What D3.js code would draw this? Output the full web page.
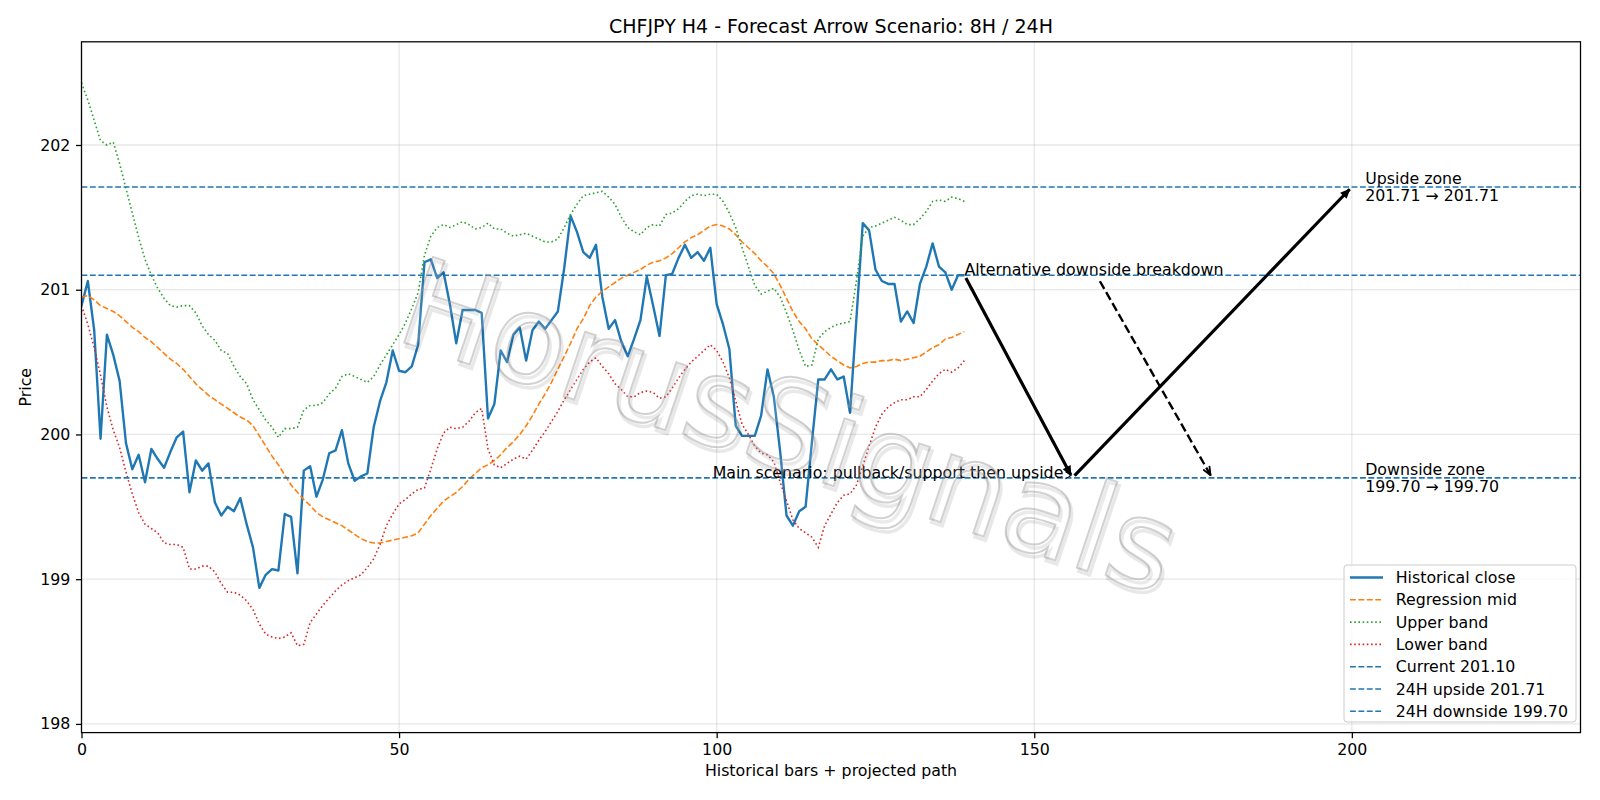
<!DOCTYPE html>
<html lang="en">
<head>
<meta charset="UTF-8">
<title>CHFJPY H4 - Forecast Arrow Scenario</title>
<script src="https://d3js.org/d3.v7.min.js"></script>
<style>
  body { margin: 0; background: #fff; }
  svg text { font-family: "DejaVu Sans", sans-serif; }
</style>
</head>
<body>
<svg id="chart" width="1600" height="800"></svg>
<script>
// ---- data ----
const closePrices = [
  200.89, 201.06, 200.72, 199.97, 200.69, 200.55, 200.37, 199.94, 199.76, 199.86,
  199.67, 199.90, 199.83, 199.77, 199.88, 199.98, 200.02, 199.60, 199.82, 199.75,
  199.80, 199.53, 199.44, 199.50, 199.47, 199.56, 199.38, 199.22, 198.94, 199.03,
  199.07, 199.06, 199.45, 199.43, 199.04, 199.75, 199.78, 199.57, 199.69, 199.87,
  199.89, 200.03, 199.80, 199.68, 199.71, 199.73, 200.05, 200.23, 200.36, 200.58,
  200.44, 200.43, 200.47, 200.62, 201.19, 201.21, 201.08, 201.12, 200.90, 200.63,
  200.86, 200.86, 200.86, 200.84, 200.11, 200.21, 200.58, 200.50, 200.69, 200.74,
  200.51, 200.72, 200.78, 200.73, 200.79, 200.85, 201.15, 201.51, 201.40, 201.26,
  201.22, 201.31, 200.95, 200.73, 200.79, 200.64, 200.54, 200.66, 200.79, 201.09,
  200.89, 200.68, 201.10, 201.11, 201.22, 201.31, 201.22, 201.26, 201.20, 201.29,
  200.90, 200.76, 200.59, 200.06, 199.99, 199.99, 199.99, 200.13, 200.45, 200.26,
  199.88, 199.44, 199.37, 199.47, 199.50, 199.95, 200.38, 200.38, 200.45, 200.38,
  200.40, 200.15, 200.80, 201.46, 201.41, 201.14, 201.06, 201.04, 201.04, 200.78,
  200.85, 200.77, 201.04, 201.16, 201.32, 201.16, 201.12, 201.00, 201.10, 201.10
];

const regressionMid = [
  200.95, 200.96, 200.93, 200.89, 200.87, 200.85, 200.82, 200.78, 200.74, 200.71,
  200.67, 200.64, 200.60, 200.56, 200.52, 200.49, 200.45, 200.40, 200.35, 200.31,
  200.27, 200.24, 200.21, 200.18, 200.15, 200.12, 200.10, 200.06, 199.99, 199.92,
  199.85, 199.79, 199.72, 199.65, 199.60, 199.55, 199.51, 199.46, 199.43, 199.41,
  199.39, 199.37, 199.34, 199.31, 199.28, 199.26, 199.25, 199.25, 199.26, 199.27,
  199.28, 199.29, 199.30, 199.32, 199.38, 199.44, 199.49, 199.54, 199.57, 199.60,
  199.64, 199.69, 199.73, 199.77, 199.79, 199.82, 199.86, 199.91, 199.95, 200.00,
  200.06, 200.13, 200.21, 200.28, 200.36, 200.45, 200.54, 200.63, 200.73, 200.80,
  200.89, 200.95, 200.99, 201.02, 201.05, 201.08, 201.10, 201.12, 201.14, 201.17,
  201.19, 201.20, 201.22, 201.25, 201.29, 201.33, 201.36, 201.38, 201.41, 201.44,
  201.45, 201.44, 201.42, 201.38, 201.33, 201.29, 201.25, 201.20, 201.16, 201.11,
  201.03, 200.94, 200.85, 200.78, 200.73, 200.66, 200.62, 200.58, 200.54, 200.51,
  200.48, 200.46, 200.47, 200.49, 200.50, 200.50, 200.51, 200.51, 200.52, 200.51,
  200.52, 200.53, 200.54, 200.57, 200.60, 200.62, 200.66, 200.67, 200.69, 200.71
];

const upperBand = [
  202.43, 202.31, 202.17, 202.03, 202.00, 202.02, 201.87, 201.70, 201.53, 201.36,
  201.21, 201.10, 201.01, 200.94, 200.89, 200.88, 200.89, 200.89, 200.84, 200.75,
  200.69, 200.65, 200.58, 200.56, 200.47, 200.40, 200.35, 200.24, 200.17, 200.10,
  200.05, 199.98, 200.04, 200.04, 200.05, 200.17, 200.20, 200.20, 200.22, 200.28,
  200.32, 200.40, 200.42, 200.40, 200.38, 200.36, 200.40, 200.48, 200.55, 200.62,
  200.69, 200.77, 200.87, 200.98, 201.24, 201.37, 201.43, 201.45, 201.43, 201.45,
  201.47, 201.45, 201.42, 201.43, 201.46, 201.42, 201.42, 201.39, 201.37, 201.38,
  201.39, 201.37, 201.35, 201.33, 201.33, 201.35, 201.43, 201.52, 201.59, 201.65,
  201.66, 201.67, 201.68, 201.64, 201.59, 201.50, 201.43, 201.40, 201.38, 201.43,
  201.45, 201.44, 201.52, 201.53, 201.56, 201.61, 201.65, 201.66, 201.65, 201.66,
  201.66, 201.61, 201.53, 201.43, 201.29, 201.16, 201.03, 200.97, 200.99, 201.01,
  200.95, 200.84, 200.72, 200.58, 200.47, 200.48, 200.66, 200.71, 200.74, 200.76,
  200.77, 200.78, 201.06, 201.37, 201.43, 201.44, 201.46, 201.48, 201.50, 201.48,
  201.45, 201.45, 201.49, 201.54, 201.61, 201.62, 201.61, 201.64, 201.63, 201.61
];

const lowerBand = [
  200.89, 200.76, 200.60, 200.41, 200.19, 200.03, 199.91, 199.74, 199.59, 199.46,
  199.38, 199.35, 199.32, 199.25, 199.24, 199.24, 199.22, 199.07, 199.07, 199.09,
  199.09, 199.05, 198.97, 198.91, 198.91, 198.89, 198.85, 198.79, 198.69, 198.62,
  198.60, 198.59, 198.60, 198.63, 198.54, 198.55, 198.70, 198.76, 198.82, 198.87,
  198.92, 198.96, 198.99, 199.01, 199.03, 199.08, 199.14, 199.24, 199.37, 199.45,
  199.52, 199.55, 199.59, 199.62, 199.63, 199.76, 199.90, 200.01, 200.05, 200.04,
  200.05, 200.09, 200.15, 200.18, 199.90, 199.79, 199.77, 199.80, 199.83, 199.85,
  199.83, 199.89, 199.96, 200.02, 200.09, 200.16, 200.24, 200.31, 200.38, 200.45,
  200.50, 200.53, 200.47, 200.42, 200.35, 200.31, 200.26, 200.26, 200.29, 200.30,
  200.29, 200.25, 200.26, 200.32, 200.39, 200.45, 200.50, 200.54, 200.58, 200.62,
  200.58, 200.50, 200.39, 200.23, 200.07, 200.00, 199.92, 199.87, 199.86, 199.81,
  199.67, 199.54, 199.41, 199.35, 199.32, 199.29, 199.22, 199.37, 199.45, 199.53,
  199.58, 199.59, 199.65, 199.78, 199.92, 200.05, 200.14, 200.19, 200.22, 200.24,
  200.24, 200.26, 200.26, 200.31, 200.37, 200.42, 200.45, 200.43, 200.46, 200.51
];

const currentPrice = 201.10;
const upsideLevel = 201.71;
const downsideLevel = 199.70;

// projected path: [bar, price]
const mainPath = [[139, 201.10], [156, 199.70], [200, 201.71]];
const altTarget = [178, 199.70];

const xTicks = [0, 50, 100, 150, 200];
const yTicks = [198, 199, 200, 201, 202];

const legendLabels = [
  "Historical close", "Regression mid", "Upper band", "Lower band",
  "Current 201.10", "24H upside 201.71", "24H downside 199.70"
];

// ---- layout ----
const W = 1600, H = 800;
const pL = 81.5, pR = 1580.5, pT = 41.8, pB = 732.6;
const pt = 1.587; // px per point

const svg = d3.select("#chart");

const x = d3.scaleLinear().domain([0, 236]).range([pL, pR]);
const y = d3.scaleLinear().domain([197.94, 202.713]).range([pB, pT]);

const blue = "#1f77b4", orange = "#ff7f0e", green = "#2ca02c", red = "#d62728";
const dashed = `${3.7 * pt},${1.6 * pt}`;
const dotted = `${1 * pt},${1.65 * pt}`;

svg.append("rect").attr("width", W).attr("height", H).attr("fill", "#fff");

const defs = svg.append("defs");
defs.append("clipPath").attr("id", "plotclip")
  .append("rect").attr("x", pL).attr("y", pT)
  .attr("width", pR - pL).attr("height", pB - pT);

defs.append("marker").attr("id", "headSolid")
  .attr("viewBox", "0 0 10 10").attr("refX", 9).attr("refY", 5)
  .attr("markerUnits", "userSpaceOnUse")
  .attr("markerWidth", 14).attr("markerHeight", 10).attr("orient", "auto")
  .append("path").attr("d", "M0,0.5 L10,5 L0,9.5 z").attr("fill", "#000");

defs.append("marker").attr("id", "headOpen")
  .attr("viewBox", "0 0 10 10").attr("refX", 9.5).attr("refY", 5)
  .attr("markerUnits", "userSpaceOnUse")
  .attr("markerWidth", 10).attr("markerHeight", 9).attr("orient", "auto")
  .append("path").attr("d", "M0,1 L9.5,5 L0,9")
  .attr("fill", "none").attr("stroke", "#000").attr("stroke-width", 2);

// grid
const grid = svg.append("g");
grid.selectAll(".gx").data(xTicks).join("line")
  .attr("x1", d => x(d)).attr("x2", d => x(d))
  .attr("y1", pT).attr("y2", pB)
  .attr("stroke", "#b0b0b0").attr("stroke-opacity", 0.3).attr("stroke-width", 1.3);
grid.selectAll(".gy").data(yTicks).join("line")
  .attr("x1", pL).attr("x2", pR)
  .attr("y1", d => y(d)).attr("y2", d => y(d))
  .attr("stroke", "#b0b0b0").attr("stroke-opacity", 0.3).attr("stroke-width", 1.3);

const plot = svg.append("g").attr("clip-path", "url(#plotclip)");

const line = d3.line().x((d, i) => x(i)).y(d => y(d));

plot.append("path").datum(closePrices).attr("d", line)
  .attr("fill", "none").attr("stroke", blue).attr("stroke-width", 1.5 * pt)
  .attr("stroke-linejoin", "round");
plot.append("path").datum(regressionMid).attr("d", line)
  .attr("fill", "none").attr("stroke", orange).attr("stroke-width", pt)
  .attr("stroke-dasharray", dashed);
plot.append("path").datum(upperBand).attr("d", line)
  .attr("fill", "none").attr("stroke", green).attr("stroke-width", pt)
  .attr("stroke-dasharray", dotted);
plot.append("path").datum(lowerBand).attr("d", line)
  .attr("fill", "none").attr("stroke", red).attr("stroke-width", pt)
  .attr("stroke-dasharray", dotted);

// horizontal levels
plot.selectAll(".lvl").data([currentPrice, upsideLevel, downsideLevel]).join("line")
  .attr("x1", pL).attr("x2", pR)
  .attr("y1", d => y(d)).attr("y2", d => y(d))
  .attr("stroke", blue).attr("stroke-width", pt)
  .attr("stroke-dasharray", dashed);

// scenario arrows
const shrink = (p, q, s) => {
  const dx = q[0] - p[0], dy = q[1] - p[1], L = Math.hypot(dx, dy);
  return [q[0] - dx / L * s, q[1] - dy / L * s];
};
for (let k = 0; k < mainPath.length - 1; k++) {
  const p = [x(mainPath[k][0]), y(mainPath[k][1])];
  const q = [x(mainPath[k + 1][0]), y(mainPath[k + 1][1])];
  const q2 = shrink(p, q, 2 * pt);
  const p2 = shrink(q, p, 2 * pt);
  svg.append("line")
    .attr("x1", p2[0]).attr("y1", p2[1]).attr("x2", q2[0]).attr("y2", q2[1])
    .attr("stroke", "#000").attr("stroke-width", 2 * pt)
    .attr("marker-end", "url(#headSolid)");
}

const fs = 15.8;
const txt = svg.append("g").attr("font-size", fs).attr("fill", "#000");

// alternative scenario
const altText = txt.append("text")
  .attr("x", x(mainPath[0][0])).attr("y", y(currentPrice))
  .text("Alternative downside breakdown");
const altBox = altText.node().getBBox();
{
  const p = [altBox.x + altBox.width / 2 + 6, altBox.y + altBox.height + 2];
  const q = shrink(p, [x(altTarget[0]), y(altTarget[1])], 2 * pt);
  svg.append("line")
    .attr("x1", p[0]).attr("y1", p[1]).attr("x2", q[0]).attr("y2", q[1])
    .attr("stroke", "#000").attr("stroke-width", 1.5 * pt)
    .attr("stroke-dasharray", `${3.7 * 1.5 * pt},${1.6 * 1.5 * pt}`)
    .attr("marker-end", "url(#headOpen)");
}

// main scenario label with small arrow stub
const mainX = x(mainPath[1][0]);
const mainY = y(downsideLevel);
txt.append("text")
  .attr("x", mainX - 9).attr("y", mainY)
  .attr("text-anchor", "end")
  .text("Main scenario: pullback/support then upside");
svg.append("path")
  .attr("d", `M${mainX - 7},${mainY - 6} L${mainX - 1},${mainY - 2.5} L${mainX - 7},${mainY + 1}`)
  .attr("fill", "none").attr("stroke", "#000").attr("stroke-width", 1);

// zone labels
[["Upside zone", upsideLevel], ["Downside zone", downsideLevel]].forEach(([lab, v]) => {
  const tx = x(202.1);
  const t = txt.append("text").attr("x", tx).attr("y", y(v));
  t.append("tspan").attr("x", tx).attr("dy", -3).text(lab);
  t.append("tspan").attr("x", tx).attr("dy", 16.8)
    .text(`${v.toFixed(2)} \u2192 ${v.toFixed(2)}`);
});

// axes frame
svg.append("rect").attr("x", pL).attr("y", pT)
  .attr("width", pR - pL).attr("height", pB - pT)
  .attr("fill", "none").attr("stroke", "#000").attr("stroke-width", 0.8 * pt);

const xAxis = svg.append("g").attr("transform", `translate(0,${pB})`)
  .call(d3.axisBottom(x).tickValues(xTicks).tickSize(3.5 * pt).tickPadding(3.5 * pt).tickFormat(d3.format("d")));
const yAxis = svg.append("g").attr("transform", `translate(${pL},0)`)
  .call(d3.axisLeft(y).tickValues(yTicks).tickSize(3.5 * pt).tickPadding(3.5 * pt).tickFormat(d3.format("d")));
[xAxis, yAxis].forEach(a => {
  a.select(".domain").remove();
  a.selectAll("text").attr("font-size", fs).attr("font-family", "DejaVu Sans").attr("fill", "#000");
  a.selectAll("line").attr("stroke", "#000").attr("stroke-width", 0.8 * pt);
});

// labels
svg.append("text").attr("x", (pL + pR) / 2).attr("y", 33)
  .attr("text-anchor", "middle").attr("font-size", 19)
  .text("CHFJPY H4 - Forecast Arrow Scenario: 8H / 24H");
svg.append("text").attr("x", (pL + pR) / 2).attr("y", 776)
  .attr("text-anchor", "middle").attr("font-size", fs)
  .text("Historical bars + projected path");
svg.append("text").attr("transform", `translate(31,${(pT + pB) / 2}) rotate(-90)`)
  .attr("text-anchor", "middle").attr("font-size", fs)
  .text("Price");

// legend
const legendStyles = [
  { c: blue, w: 1.5 * pt, dash: null },
  { c: orange, w: pt, dash: dashed },
  { c: green, w: pt, dash: dotted },
  { c: red, w: pt, dash: dotted },
  { c: blue, w: pt, dash: dashed },
  { c: blue, w: pt, dash: dashed },
  { c: blue, w: pt, dash: dashed }
];
const lg = svg.append("g");
lg.append("rect").attr("x", 1344).attr("y", 565).attr("width", 232).attr("height", 157)
  .attr("rx", 3).attr("fill", "#fff").attr("fill-opacity", 0.8)
  .attr("stroke", "#ccc").attr("stroke-width", 1);
legendLabels.forEach((lab, k) => {
  const cy = 577.5 + 22.3 * k;
  const st = legendStyles[k];
  lg.append("line").attr("x1", 1350).attr("x2", 1383).attr("y1", cy).attr("y2", cy)
    .attr("stroke", st.c).attr("stroke-width", st.w)
    .attr("stroke-dasharray", st.dash);
  lg.append("text").attr("x", 1395.7).attr("y", cy).attr("dy", "0.35em")
    .attr("font-size", fs).text(lab);
});

// watermark
const wm = svg.append("g").attr("transform", "translate(790,426) rotate(18.5)");
wm.append("text").attr("x", 3).attr("y", 3)
  .attr("text-anchor", "middle").attr("dy", "0.35em")
  .attr("font-size", 124).attr("fill", "none")
  .attr("stroke", "#000").attr("stroke-opacity", 0.09).attr("stroke-width", 3.5)
  .text("HorusSignals");
wm.append("text")
  .attr("text-anchor", "middle").attr("dy", "0.35em")
  .attr("font-size", 124).attr("fill", "#fff").attr("fill-opacity", 0.12)
  .attr("stroke", "#8c8c8c").attr("stroke-opacity", 0.4).attr("stroke-width", 2)
  .text("HorusSignals");
</script>
</body>
</html>
